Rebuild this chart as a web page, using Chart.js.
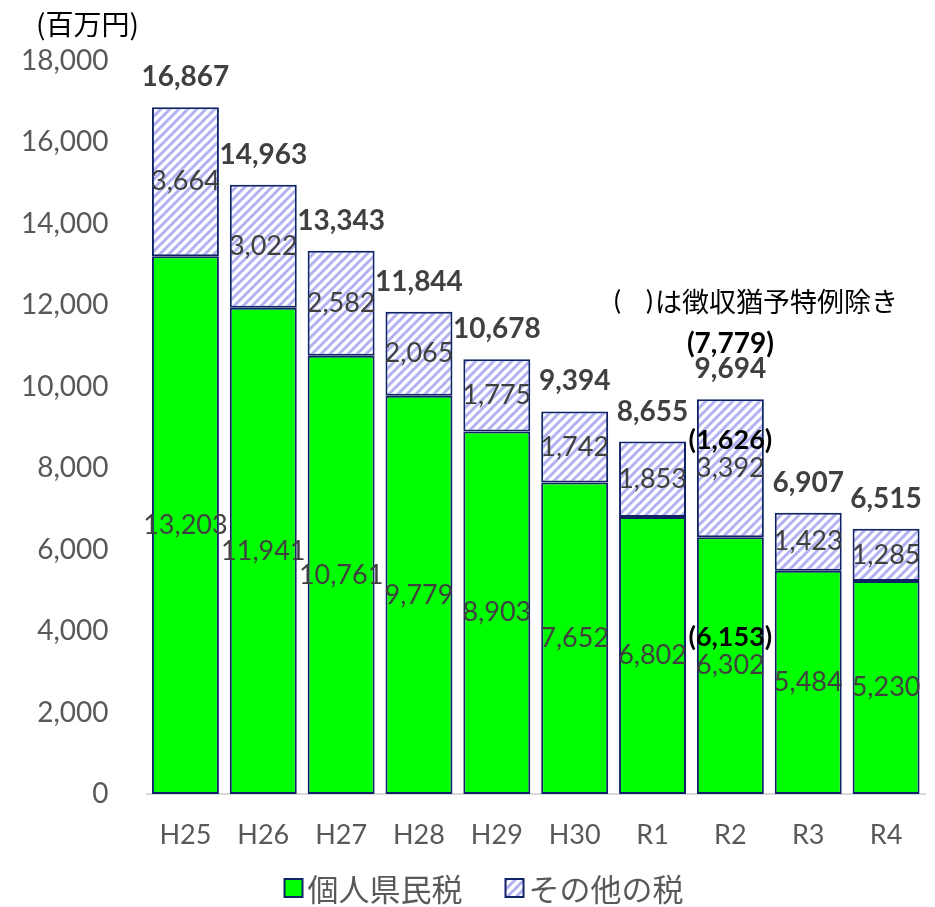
<!DOCTYPE html>
<html lang="ja">
<head>
<meta charset="UTF-8">
<title>県税収入の推移</title>
<script src="https://cdn.jsdelivr.net/npm/chart.js@4"></script>
<style>
    html, body { margin: 0; padding: 0; background: #ffffff; }
    #wrap { width: 935px; height: 907px; }
</style>
</head>
<body>
<div id="wrap"><canvas id="chart" width="935" height="907"></canvas></div>
<script>
// 年度
const years = ['H25', 'H26', 'H27', 'H28', 'H29', 'H30', 'R1', 'R2', 'R3', 'R4'];
// 個人県民税（百万円）
const personalTax = [13203, 11941, 10761, 9779, 8903, 7652, 6802, 6302, 5484, 5230];
// その他の税（百万円）
const otherTax = [3664, 3022, 2582, 2065, 1775, 1742, 1853, 3392, 1423, 1285];
// 徴収猶予特例除き（R2のみ）: [個人県民税, その他の税, 合計]
const exclYear = 'R2';
const exclValues = [6153, 1626, 7779];
const yTicks = [0, 2000, 4000, 6000, 8000, 10000, 12000, 14000, 16000, 18000];

const numFont = "Lato, 'Noto Sans CJK JP', sans-serif";
const jpFont = "'Noto Sans CJK JP', sans-serif";
const textGray = '#595959';
const labelGray = '#404040';
const navy = '#0e2366';

function fmt(v) {
    return v.toLocaleString('en-US');
}

function makeStripes() {
    const c = document.createElement('canvas');
    c.width = 9;
    c.height = 9;
    const g = c.getContext('2d');
    g.fillStyle = '#ffffff';
    g.fillRect(0, 0, 9, 9);
    g.strokeStyle = '#b2b2f2';
    g.lineWidth = 3;
    g.beginPath();
    g.moveTo(-2, 11); g.lineTo(11, -2);
    g.moveTo(-6, 6); g.lineTo(6, -6);
    g.moveTo(3, 15); g.lineTo(15, 3);
    g.stroke();
    return g.createPattern(c, 'repeat');
}

const stripes = makeStripes();

// 値ラベル、合計、注記、単位、凡例
const labelPlugin = {
    id: 'labelPlugin',
    afterDatasetsDraw(chart) {
        const ctx = chart.ctx;
        const lower = chart.getDatasetMeta(0).data;
        const upper = chart.getDatasetMeta(1).data;
        const exIdx = years.indexOf(exclYear);
        ctx.save();
        ctx.textAlign = 'center';
        ctx.textBaseline = 'middle';

        [lower, upper].forEach((bars, d) => {
            const values = chart.data.datasets[d].data;
            bars.forEach((bar, i) => {
                const cy = (bar.y + bar.base) / 2;
                ctx.font = '27px ' + numFont;
                ctx.fillStyle = labelGray;
                ctx.fillText(fmt(values[i]), bar.x, cy);
                if (i === exIdx) {
                    ctx.font = 'bold 27px ' + numFont;
                    ctx.fillStyle = '#000000';
                    ctx.fillText('(' + fmt(exclValues[d]) + ')', bar.x, cy - 28);
                }
            });
        });

        upper.forEach((bar, i) => {
            const total = personalTax[i] + otherTax[i];
            ctx.font = 'bold 28px ' + numFont;
            ctx.fillStyle = labelGray;
            ctx.fillText(fmt(total), bar.x, bar.y - 30);
            if (i === exIdx) {
                ctx.fillStyle = '#000000';
                ctx.fillText('(' + fmt(exclValues[2]) + ')', bar.x, bar.y - 55);
            }
        });

        // 注記
        ctx.textAlign = 'left';
        ctx.fillStyle = '#000000';
        ctx.font = '26px ' + numFont;
        ctx.fillText('(', 614, 302);
        ctx.fillText(')', 646, 302);
        ctx.font = '27px ' + jpFont;
        ctx.fillText('は徴収猶予特例除き', 655, 302);

        // 単位
        ctx.font = '28px ' + jpFont;
        ctx.fillText('(百万円)', 36, 24);

        // 凡例
        const items = chart.data.datasets.map(ds => ({ text: ds.label, fill: ds.backgroundColor }));
        ctx.font = '31px ' + jpFont;
        const box = 18, gap = 5, itemGap = 43;
        let totalW = 0;
        items.forEach((it, k) => {
            it.w = ctx.measureText(it.text).width;
            totalW += box + gap + it.w + (k > 0 ? itemGap : 0);
        });
        let x = 484 - totalW / 2;
        const ly = 888;
        items.forEach(it => {
            ctx.fillStyle = it.fill;
            ctx.fillRect(x, ly - box / 2, box, box);
            ctx.strokeStyle = navy;
            ctx.lineWidth = 2;
            ctx.strokeRect(x, ly - box / 2, box, box);
            ctx.fillStyle = textGray;
            ctx.fillText(it.text, x + box + gap, ly + 1);
            x += box + gap + it.w + itemGap;
        });
        ctx.restore();
    }
};

new Chart(document.getElementById('chart'), {
    type: 'bar',
    data: {
        labels: years,
        datasets: [
            {
                label: '個人県民税',
                data: personalTax,
                backgroundColor: '#00ff00',
                borderColor: navy,
                borderWidth: 2,
                borderSkipped: false,
                barPercentage: 0.86,
                categoryPercentage: 1.0
            },
            {
                label: 'その他の税',
                data: otherTax,
                backgroundColor: stripes,
                borderColor: navy,
                borderWidth: 2,
                borderSkipped: false,
                barPercentage: 0.86,
                categoryPercentage: 1.0
            }
        ]
    },
    options: {
        responsive: false,
        animation: false,
        events: [],
        layout: { padding: { top: 61, right: 10, bottom: 0, left: 0 } },
        plugins: {
            legend: { display: false },
            tooltip: { enabled: false },
            title: { display: false }
        },
        scales: {
            x: {
                stacked: true,
                grid: { display: false, drawTicks: false },
                border: { display: true, color: '#d9d9d9', width: 2 },
                ticks: {
                    color: textGray,
                    font: { family: numFont, size: 27 },
                    padding: 25,
                    maxRotation: 0
                },
                afterFit(scale) { scale.height = 113; }
            },
            y: {
                stacked: true,
                min: yTicks[0],
                max: yTicks[yTicks.length - 1],
                afterBuildTicks(scale) { scale.ticks = yTicks.map(v => ({ value: v })); },
                grid: { display: false, drawTicks: false },
                border: { display: false },
                ticks: {
                    color: textGray,
                    font: { family: numFont, size: 28 },
                    padding: 38,
                    callback: v => fmt(v)
                },
                afterFit(scale) { scale.width = 146.5; }
            }
        }
    },
    plugins: [labelPlugin]
});
</script>
</body>
</html>
